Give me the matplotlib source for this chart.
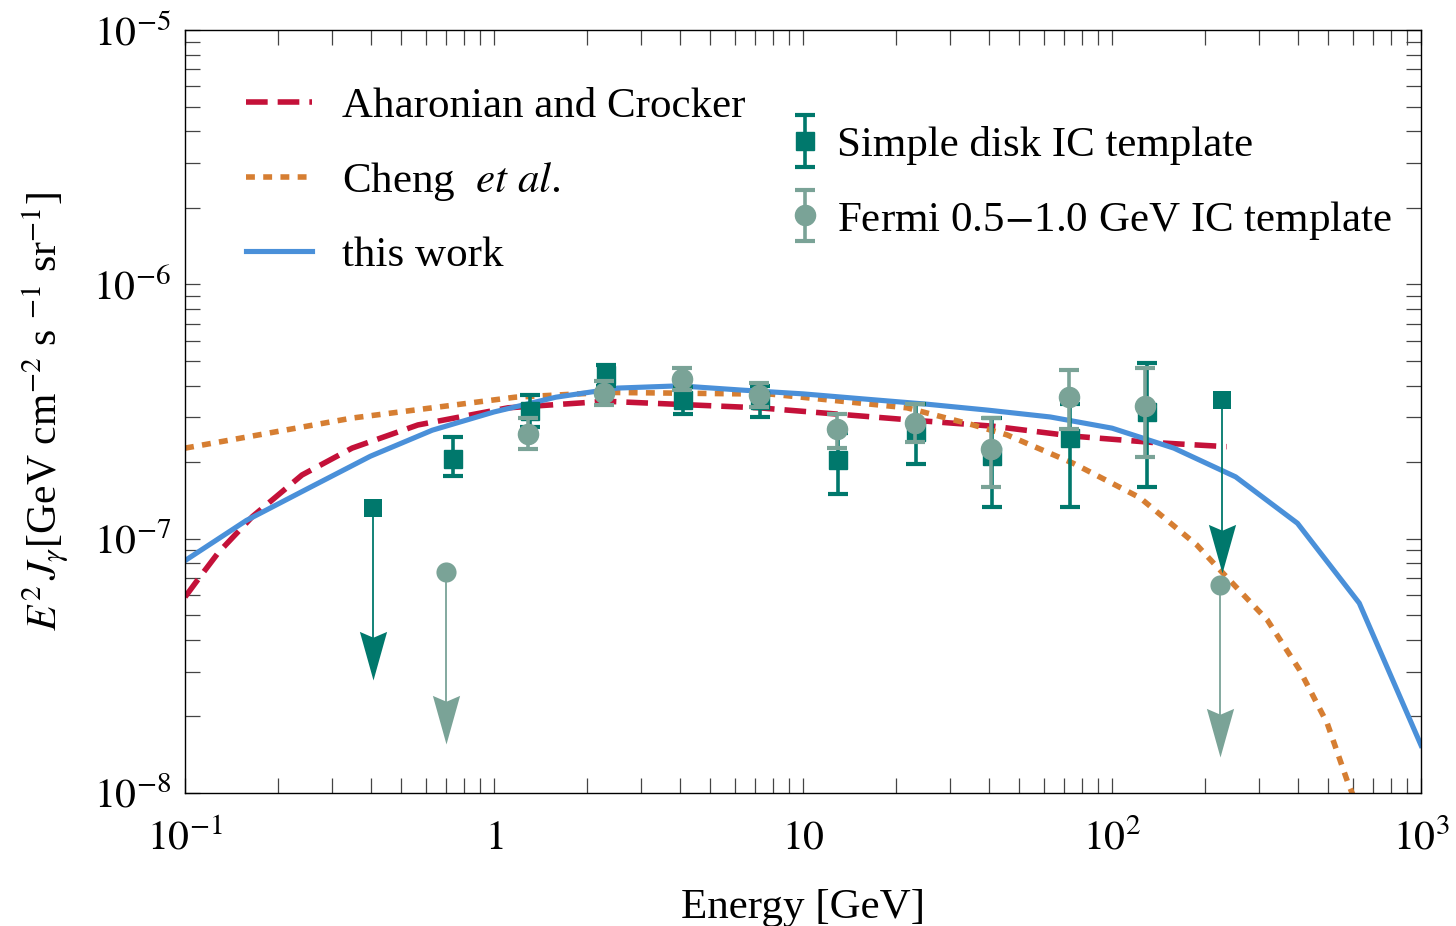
import numpy as np
import matplotlib
matplotlib.use("Agg")
import matplotlib.pyplot as plt
from matplotlib.path import Path
from matplotlib.legend_handler import HandlerErrorbar
from matplotlib.ticker import LogLocator, NullFormatter, FixedLocator, FixedFormatter

plt.rcParams["font.family"] = ["Liberation Serif", "DejaVu Serif"]
plt.rcParams["mathtext.fontset"] = "stix"

# --- model curves ---
ac_E = [0.1, 0.11, 0.128, 0.165, 0.239, 0.347, 0.567, 1.11, 2.3, 7.2, 23, 41, 75, 135, 235]
ac_F = [5.9e-8, 6.9e-8, 8.8e-8, 1.22e-7, 1.78e-7, 2.27e-7, 2.80e-7, 3.27e-7, 3.47e-7,
        3.27e-7, 2.92e-7, 2.77e-7, 2.53e-7, 2.39e-7, 2.30e-7]

cheng_E = [0.1, 0.186, 0.347, 1.17, 2.32, 7.9, 21.7, 35.5, 45.7, 74.8, 123, 188, 219,
           318, 405, 497, 581, 620]
cheng_F = [2.27e-7, 2.60e-7, 2.98e-7, 3.60e-7, 3.76e-7, 3.70e-7, 3.27e-7, 2.80e-7, 2.56e-7,
           1.98e-7, 1.45e-7, 9.45e-8, 7.73e-8, 4.79e-8, 3.04e-8, 1.88e-8, 1.09e-8, 9.0e-9]

work_E = [0.1, 0.158, 0.251, 0.398, 0.631, 1.0, 1.585, 2.512, 3.981, 6.31, 10.0, 15.85,
          25.12, 39.81, 63.1, 100.0, 158.5, 251.2, 398.1, 631.0, 1000.0]
work_F = [8.2e-8, 1.18e-7, 1.58e-7, 2.11e-7, 2.67e-7, 3.15e-7, 3.60e-7, 3.91e-7, 3.99e-7,
          3.84e-7, 3.71e-7, 3.54e-7, 3.38e-7, 3.20e-7, 3.01e-7, 2.72e-7, 2.27e-7, 1.75e-7,
          1.15e-7, 5.58e-8, 1.54e-8]

# --- simple disk IC template (squares) ---
disk_E = [0.736, 1.31, 2.30, 4.09, 7.26, 13.0, 23.2, 40.9, 73.1, 129.7]
disk_F = [2.06e-7, 3.18e-7, 4.40e-7, 3.51e-7, 3.51e-7, 2.04e-7, 2.62e-7, 2.11e-7, 2.49e-7, 3.15e-7]
disk_lo = [1.76e-7, 2.75e-7, 4.0e-7, 3.1e-7, 3.0e-7, 1.50e-7, 1.97e-7, 1.33e-7, 1.33e-7, 1.60e-7]
disk_hi = [2.52e-7, 3.67e-7, 4.8e-7, 3.95e-7, 4.0e-7, 2.6e-7, 3.4e-7, 2.99e-7, 3.4e-7, 4.9e-7]
disk_ul_E = [0.405, 227]
disk_ul_F = [1.32e-7, 3.5e-7]

# --- Fermi 0.5-1.0 GeV IC template (circles) ---
fermi_E = [1.29, 2.27, 4.06, 7.2, 12.9, 23.0, 40.5, 72.5, 128]
fermi_F = [2.58e-7, 3.74e-7, 4.25e-7, 3.68e-7, 2.70e-7, 2.85e-7, 2.25e-7, 3.6e-7, 3.32e-7]
fermi_lo = [2.25e-7, 3.35e-7, 3.85e-7, 3.3e-7, 2.28e-7, 2.39e-7, 1.6e-7, 2.7e-7, 2.1e-7]
fermi_hi = [2.97e-7, 4.15e-7, 4.7e-7, 4.1e-7, 3.1e-7, 3.4e-7, 2.97e-7, 4.6e-7, 4.7e-7]
fermi_ul_E = [0.70, 223]
fermi_ul_F = [7.4e-8, 6.6e-8]

red = "#c41139"
orange = "#d67e32"
blue = "#4a90d9"
teal = "#00786c"
sage = "#7aa397"

# notched arrowhead, tip at the origin
head = Path([(0, 0), (-0.28, 1.0), (0, 0.88), (0.28, 1.0), (0, 0)],
            [Path.MOVETO, Path.LINETO, Path.LINETO, Path.LINETO, Path.CLOSEPOLY])

fig = plt.figure(figsize=(14.56, 9.26), dpi=100)
ax = fig.add_axes([0.1271, 0.1436, 0.8489, 0.824])

l1, = ax.plot(ac_E, ac_F, color=red, lw=4.0, dashes=(3.9, 1.8), label="Aharonian and Crocker", zorder=2)
l2, = ax.plot(cheng_E, cheng_F, color=orange, lw=4.0, dashes=(1.6, 1.5),
              label="Cheng  $\\it{et\\ al}$.", zorder=2)
l3, = ax.plot(work_E, work_F, color=blue, lw=3.7, label="this work", zorder=2)


def draw_points(E, F, lo, hi, color, marker, ms, z):
    F = np.array(F)
    yerr = [F - np.array(lo), np.array(hi) - F]
    return ax.errorbar(E, F, yerr=yerr, fmt=marker, color=color, ms=ms, mec=color,
                       elinewidth=2.6, capsize=7, capthick=3.0, zorder=z)


def draw_limits(E, F, color, marker, ms, z):
    for e, f in zip(E, F):
        tip = f * 0.21
        ax.plot([e, e], [f, tip * 1.25], color=color, lw=1.3, zorder=z)
        ax.plot([e], [tip], marker=head, ms=70, color=color, mew=0, zorder=z)
        ax.plot([e], [f], marker=marker, ms=ms, color=color, mew=0, zorder=z + 0.1)


e1 = draw_points(disk_E, disk_F, disk_lo, disk_hi, teal, "s", 13, 3)
draw_limits(disk_ul_E, disk_ul_F, teal, "s", 13, 3)
e2 = draw_points(fermi_E, fermi_F, fermi_lo, fermi_hi, sage, "o", 14.5, 4)
draw_limits(fermi_ul_E, fermi_ul_F, sage, "o", 14.5, 4)

ax.set_xscale("log")
ax.set_yscale("log")
ax.set_xlim(0.1, 1000)
ax.set_ylim(1e-8, 1e-5)

ax.xaxis.set_major_locator(FixedLocator([0.1, 1, 10, 100, 1000]))
ax.xaxis.set_major_formatter(FixedFormatter(["$10^{-1}$", "$1$", "$10$", "$10^{2}$", "$10^{3}$"]))
ax.xaxis.set_minor_locator(LogLocator(base=10, subs=np.arange(2, 10), numticks=20))
ax.xaxis.set_minor_formatter(NullFormatter())
ax.yaxis.set_major_locator(FixedLocator([1e-8, 1e-7, 1e-6, 1e-5]))
ax.yaxis.set_major_formatter(FixedFormatter(["$10^{-8}$", "$10^{-7}$", "$10^{-6}$", "$10^{-5}$"]))
ax.yaxis.set_minor_locator(LogLocator(base=10, subs=np.arange(2, 10), numticks=20))
ax.yaxis.set_minor_formatter(NullFormatter())

ax.tick_params(which="both", direction="in", top=True, right=True, length=10.5,
               width=0.9, color="#444444", labelsize=30)
ax.tick_params(axis="x", pad=19)
ax.tick_params(axis="y", pad=10)
for sp in ax.spines.values():
    sp.set_linewidth(1.0)

ax.set_xlabel("Energy [GeV]", fontsize=31, labelpad=22)
ax.set_ylabel("$E^2\\,J_\\gamma$[GeV cm$^{-2}$ s $^{-1}$ sr$^{-1}$]", fontsize=30, labelpad=16)

leg1 = ax.legend(handles=[l1, l2, l3], loc="upper left", bbox_to_anchor=(0.035, 0.948),
                 frameon=False, fontsize=31, handlelength=1.55, handletextpad=0.7,
                 labelspacing=0.78, borderaxespad=0)
ax.add_artist(leg1)
ax.legend([e1, e2], ["Simple disk IC template", "Fermi 0.5$-$1.0 GeV IC template"],
          loc="upper left", bbox_to_anchor=(0.477, 0.897), frameon=False, fontsize=31,
          handlelength=0.6, handletextpad=0.45, labelspacing=0.78, borderaxespad=0,
          handler_map={type(e1): HandlerErrorbar(yerr_size=0.6)})

fig.savefig("out.png", dpi=100)
